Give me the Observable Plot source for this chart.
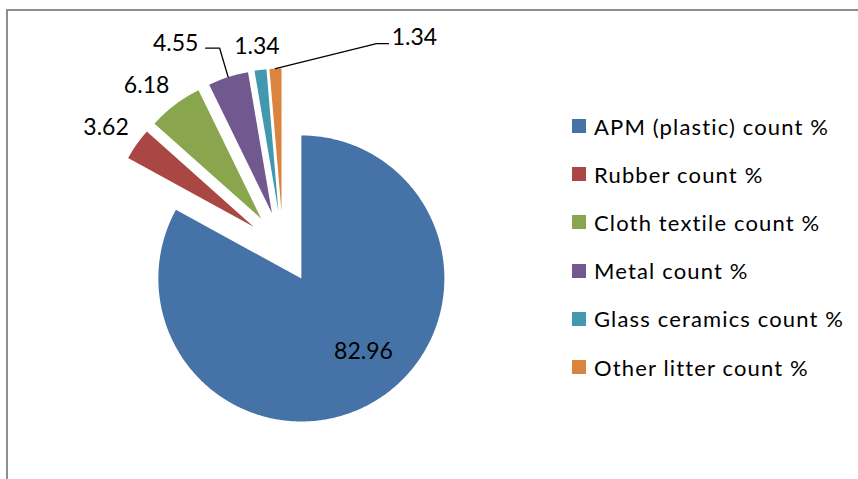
<!DOCTYPE html>
<html>
<head>
<meta charset="utf-8">
<script src="https://cdn.jsdelivr.net/npm/d3@7"></script>
<script src="https://cdn.jsdelivr.net/npm/@observablehq/plot@0.6"></script>
<style>
  html, body { margin: 0; padding: 0; background: #fff; }
  #wrap { position: relative; width: 858px; height: 479px; overflow: hidden; background: #fff; font-family: Lato, "Open Sans", sans-serif; }
  #frame { position: absolute; left: 6px; top: 9px; width: 900px; height: 520px; border-left: 2px solid #8e8e8e; border-top: 2px solid #8e8e8e; box-sizing: border-box; }
  #chart { position: absolute; left: 0; top: 0; }
  #legend { position: absolute; left: 572px; top: 102px; }
  .row { display: flex; align-items: center; height: 48.2px; }
  .sw { width: 14px; height: 14px; margin-right: 8px; flex: none; }
  .lab { font-size: 22px; letter-spacing: 1.15px; color: #000; white-space: nowrap; }
</style>
</head>
<body>
<div id="wrap">
  <div id="frame"></div>
  <div id="chart"></div>
  <div id="legend"></div>
</div>
<script>
// ---- data ----
const categories = ["APM (plastic) count %", "Rubber count %", "Cloth textile count %", "Metal count %", "Glass ceramics count %", "Other litter count %"];
const values = [82.96, 3.62, 6.18, 4.55, 1.34, 1.34];
const valueLabels = ["82.96", "3.62", "6.18", "4.55", "1.34", "1.34"];
const colors = ["#4572A7", "#AA4643", "#89A54E", "#71588F", "#4198AF", "#DB843D"];

// ---- layout (pixels) ----
const W = 858, H = 479;
const CX = 282.5, CY = 247, R = 143;   // pie centre and radius
const EXPLODE = 36 / R;                 // explosion, in radii
// label offsets from the outer middle of each slice (px, screen)
const labelOffset = [[-10.8, -49.5], [-30.7, -16.4], [-28.3, -18.9], [-52.5, -33.6], [-3.5, -23.1], [139, -31]];
// leader lines (px offsets from the outer middle of the slice), null = none
const leaderOffset = [null, null, null, [[0, 0], [-8.5, -28.9], [-22.5, -28.9]], null, [[0, 0], [101, -25], [113, -25]]];

const pie = d3.pie().sort(null).value(d => d)(values);

const slicePts = [];
const labels = [];
const leaders = [];
pie.forEach((p, i) => {
  const m = (p.startAngle + p.endAngle) / 2;
  const vx = EXPLODE * Math.sin(m), vy = EXPLODE * Math.cos(m);
  const key = categories[i];
  slicePts.push({key, x: vx, y: vy});
  const n = Math.max(4, Math.ceil((p.endAngle - p.startAngle) / (Math.PI / 360)));
  for (let k = 0; k <= n; k++) {
    const a = p.startAngle + (p.endAngle - p.startAngle) * k / n;
    slicePts.push({key, x: vx + Math.sin(a), y: vy + Math.cos(a)});
  }
  slicePts.push({key, x: vx, y: vy});
  const ox = vx + Math.sin(m), oy = vy + Math.cos(m);
  labels.push({text: valueLabels[i], x: ox + labelOffset[i][0] / R, y: oy - labelOffset[i][1] / R});
  if (leaderOffset[i]) {
    leaderOffset[i].forEach(([dx, dy]) => leaders.push({key, x: ox + dx / R, y: oy - dy / R}));
  }
});

const chart = Plot.plot({
  width: W,
  height: H,
  margin: 0,
  style: {fontFamily: "Lato, 'Open Sans', sans-serif", background: "transparent", overflow: "visible"},
  x: {domain: [-CX / R, (W - CX) / R], range: [0, W], axis: null},
  y: {domain: [(CY - H) / R, CY / R], range: [H, 0], axis: null},
  color: {domain: categories, range: colors},
  marks: [
    Plot.line(slicePts, {x: "x", y: "y", z: "key", fill: "key", stroke: "none", curve: "linear"}),
    Plot.line(leaders, {x: "x", y: "y", z: "key", stroke: "#000", strokeWidth: 1.3}),
    Plot.text(labels, {x: "x", y: "y", text: "text", fontSize: 23, fill: "#000"})
  ]
});
document.getElementById("chart").appendChild(chart);

const legend = document.getElementById("legend");
categories.forEach((c, i) => {
  const row = document.createElement("div");
  row.className = "row";
  const sw = document.createElement("div");
  sw.className = "sw";
  sw.style.background = colors[i];
  const lab = document.createElement("div");
  lab.className = "lab";
  lab.textContent = c;
  row.appendChild(sw);
  row.appendChild(lab);
  legend.appendChild(row);
});
</script>
</body>
</html>
